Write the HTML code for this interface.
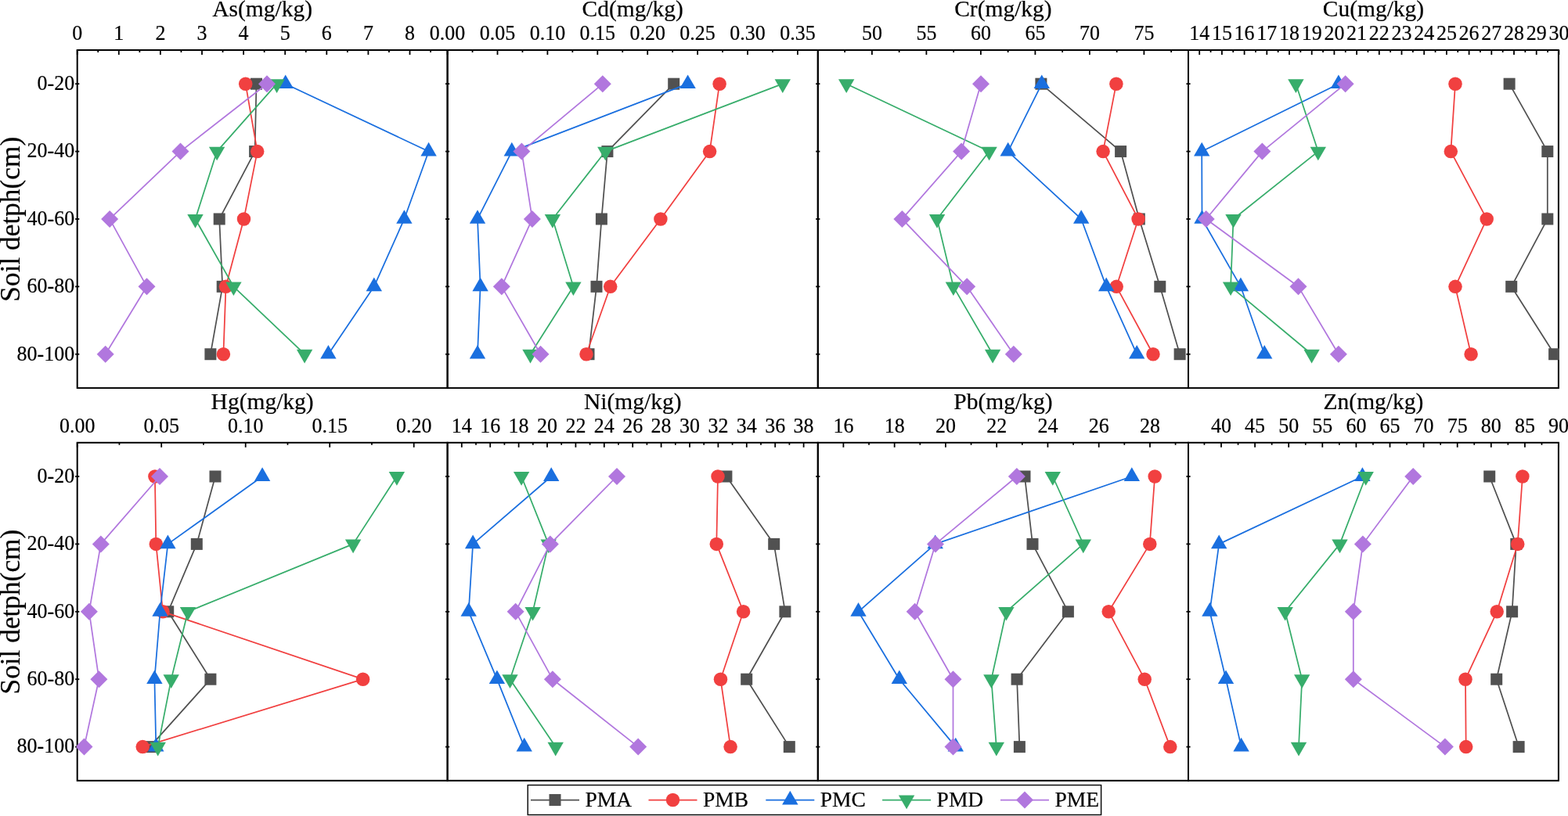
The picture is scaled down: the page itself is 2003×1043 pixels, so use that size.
<!DOCTYPE html><html><head><meta charset="utf-8"><title>Soil depth profiles</title><style>html,body{margin:0;padding:0;background:#fff;}svg{display:block;}text{stroke:#000;stroke-width:0.2px;}</style></head><body>
<svg width="2003" height="1043" viewBox="0 0 2003 1043" font-family="'Liberation Serif','Times New Roman',serif">
<rect x="0" y="0" width="2003" height="1043" fill="#fff"/>
<defs>
<clipPath id="c0"><rect x="97.70" y="63.00" width="474.90" height="433.90"/></clipPath>
<clipPath id="c1"><rect x="570.60" y="63.00" width="475.20" height="433.90"/></clipPath>
<clipPath id="c2"><rect x="1043.80" y="63.00" width="475.20" height="433.90"/></clipPath>
<clipPath id="c3"><rect x="1517.00" y="63.00" width="474.90" height="433.90"/></clipPath>
<clipPath id="c4"><rect x="97.70" y="564.80" width="474.90" height="434.00"/></clipPath>
<clipPath id="c5"><rect x="570.60" y="564.80" width="475.20" height="434.00"/></clipPath>
<clipPath id="c6"><rect x="1043.80" y="564.80" width="475.20" height="434.00"/></clipPath>
<clipPath id="c7"><rect x="1517.00" y="564.80" width="474.90" height="434.00"/></clipPath>
</defs>
<g stroke="#000" stroke-width="1.8" fill="none"><line x1="98.70" y1="64.00" x2="98.70" y2="70.00"/><line x1="151.80" y1="64.00" x2="151.80" y2="70.00"/><line x1="204.90" y1="64.00" x2="204.90" y2="70.00"/><line x1="258.00" y1="64.00" x2="258.00" y2="70.00"/><line x1="311.10" y1="64.00" x2="311.10" y2="70.00"/><line x1="364.20" y1="64.00" x2="364.20" y2="70.00"/><line x1="417.30" y1="64.00" x2="417.30" y2="70.00"/><line x1="470.40" y1="64.00" x2="470.40" y2="70.00"/><line x1="523.50" y1="64.00" x2="523.50" y2="70.00"/><line x1="125.25" y1="64.00" x2="125.25" y2="67.00"/><line x1="178.35" y1="64.00" x2="178.35" y2="67.00"/><line x1="231.45" y1="64.00" x2="231.45" y2="67.00"/><line x1="284.55" y1="64.00" x2="284.55" y2="67.00"/><line x1="337.65" y1="64.00" x2="337.65" y2="67.00"/><line x1="390.75" y1="64.00" x2="390.75" y2="67.00"/><line x1="443.85" y1="64.00" x2="443.85" y2="67.00"/><line x1="496.95" y1="64.00" x2="496.95" y2="67.00"/><line x1="550.05" y1="64.00" x2="550.05" y2="67.00"/><line x1="96.10" y1="107.19" x2="101.30" y2="107.19"/><line x1="96.10" y1="193.57" x2="101.30" y2="193.57"/><line x1="96.10" y1="279.95" x2="101.30" y2="279.95"/><line x1="96.10" y1="366.33" x2="101.30" y2="366.33"/><line x1="96.10" y1="452.71" x2="101.30" y2="452.71"/></g>
<rect x="98.70" y="64.00" width="472.90" height="431.90" fill="none" stroke="#000" stroke-width="2.0"/>
<g font-size="26" text-anchor="middle" fill="#000"><text transform="translate(98.70,51.30) scale(1,1.03)">0</text><text transform="translate(151.80,51.30) scale(1,1.03)">1</text><text transform="translate(204.90,51.30) scale(1,1.03)">2</text><text transform="translate(258.00,51.30) scale(1,1.03)">3</text><text transform="translate(311.10,51.30) scale(1,1.03)">4</text><text transform="translate(364.20,51.30) scale(1,1.03)">5</text><text transform="translate(417.30,51.30) scale(1,1.03)">6</text><text transform="translate(470.40,51.30) scale(1,1.03)">7</text><text transform="translate(523.50,51.30) scale(1,1.03)">8</text></g>
<text transform="translate(335.15,21.00)" font-size="29.5" text-anchor="middle" fill="#000">As(mg/kg)</text>
<g stroke="#000" stroke-width="1.8" fill="none"><line x1="571.60" y1="64.00" x2="571.60" y2="70.00"/><line x1="635.50" y1="64.00" x2="635.50" y2="70.00"/><line x1="699.40" y1="64.00" x2="699.40" y2="70.00"/><line x1="763.30" y1="64.00" x2="763.30" y2="70.00"/><line x1="827.20" y1="64.00" x2="827.20" y2="70.00"/><line x1="891.10" y1="64.00" x2="891.10" y2="70.00"/><line x1="955.00" y1="64.00" x2="955.00" y2="70.00"/><line x1="1018.90" y1="64.00" x2="1018.90" y2="70.00"/><line x1="603.55" y1="64.00" x2="603.55" y2="67.00"/><line x1="667.45" y1="64.00" x2="667.45" y2="67.00"/><line x1="731.35" y1="64.00" x2="731.35" y2="67.00"/><line x1="795.25" y1="64.00" x2="795.25" y2="67.00"/><line x1="859.15" y1="64.00" x2="859.15" y2="67.00"/><line x1="923.05" y1="64.00" x2="923.05" y2="67.00"/><line x1="986.95" y1="64.00" x2="986.95" y2="67.00"/><line x1="569.00" y1="107.19" x2="574.20" y2="107.19"/><line x1="569.00" y1="193.57" x2="574.20" y2="193.57"/><line x1="569.00" y1="279.95" x2="574.20" y2="279.95"/><line x1="569.00" y1="366.33" x2="574.20" y2="366.33"/><line x1="569.00" y1="452.71" x2="574.20" y2="452.71"/></g>
<rect x="571.60" y="64.00" width="473.20" height="431.90" fill="none" stroke="#000" stroke-width="2.0"/>
<g font-size="26" text-anchor="middle" fill="#000"><text transform="translate(571.60,51.30) scale(1,1.03)">0.00</text><text transform="translate(635.50,51.30) scale(1,1.03)">0.05</text><text transform="translate(699.40,51.30) scale(1,1.03)">0.10</text><text transform="translate(763.30,51.30) scale(1,1.03)">0.15</text><text transform="translate(827.20,51.30) scale(1,1.03)">0.20</text><text transform="translate(891.10,51.30) scale(1,1.03)">0.25</text><text transform="translate(955.00,51.30) scale(1,1.03)">0.30</text><text transform="translate(1018.90,51.30) scale(1,1.03)">0.35</text></g>
<text transform="translate(808.20,21.00)" font-size="29.5" text-anchor="middle" fill="#000">Cd(mg/kg)</text>
<g stroke="#000" stroke-width="1.8" fill="none"><line x1="1113.90" y1="64.00" x2="1113.90" y2="70.00"/><line x1="1183.40" y1="64.00" x2="1183.40" y2="70.00"/><line x1="1252.90" y1="64.00" x2="1252.90" y2="70.00"/><line x1="1322.40" y1="64.00" x2="1322.40" y2="70.00"/><line x1="1391.90" y1="64.00" x2="1391.90" y2="70.00"/><line x1="1461.40" y1="64.00" x2="1461.40" y2="70.00"/><line x1="1079.15" y1="64.00" x2="1079.15" y2="67.00"/><line x1="1148.65" y1="64.00" x2="1148.65" y2="67.00"/><line x1="1218.15" y1="64.00" x2="1218.15" y2="67.00"/><line x1="1287.65" y1="64.00" x2="1287.65" y2="67.00"/><line x1="1357.15" y1="64.00" x2="1357.15" y2="67.00"/><line x1="1426.65" y1="64.00" x2="1426.65" y2="67.00"/><line x1="1496.15" y1="64.00" x2="1496.15" y2="67.00"/><line x1="1042.20" y1="107.19" x2="1047.40" y2="107.19"/><line x1="1042.20" y1="193.57" x2="1047.40" y2="193.57"/><line x1="1042.20" y1="279.95" x2="1047.40" y2="279.95"/><line x1="1042.20" y1="366.33" x2="1047.40" y2="366.33"/><line x1="1042.20" y1="452.71" x2="1047.40" y2="452.71"/></g>
<rect x="1044.80" y="64.00" width="473.20" height="431.90" fill="none" stroke="#000" stroke-width="2.0"/>
<g font-size="26" text-anchor="middle" fill="#000"><text transform="translate(1113.90,51.30) scale(1,1.03)">50</text><text transform="translate(1183.40,51.30) scale(1,1.03)">55</text><text transform="translate(1252.90,51.30) scale(1,1.03)">60</text><text transform="translate(1322.40,51.30) scale(1,1.03)">65</text><text transform="translate(1391.90,51.30) scale(1,1.03)">70</text><text transform="translate(1461.40,51.30) scale(1,1.03)">75</text></g>
<text transform="translate(1281.40,21.00)" font-size="29.5" text-anchor="middle" fill="#000">Cr(mg/kg)</text>
<g stroke="#000" stroke-width="1.8" fill="none"><line x1="1532.20" y1="64.00" x2="1532.20" y2="70.00"/><line x1="1560.90" y1="64.00" x2="1560.90" y2="70.00"/><line x1="1589.60" y1="64.00" x2="1589.60" y2="70.00"/><line x1="1618.30" y1="64.00" x2="1618.30" y2="70.00"/><line x1="1647.00" y1="64.00" x2="1647.00" y2="70.00"/><line x1="1675.70" y1="64.00" x2="1675.70" y2="70.00"/><line x1="1704.40" y1="64.00" x2="1704.40" y2="70.00"/><line x1="1733.10" y1="64.00" x2="1733.10" y2="70.00"/><line x1="1761.80" y1="64.00" x2="1761.80" y2="70.00"/><line x1="1790.50" y1="64.00" x2="1790.50" y2="70.00"/><line x1="1819.20" y1="64.00" x2="1819.20" y2="70.00"/><line x1="1847.90" y1="64.00" x2="1847.90" y2="70.00"/><line x1="1876.60" y1="64.00" x2="1876.60" y2="70.00"/><line x1="1905.30" y1="64.00" x2="1905.30" y2="70.00"/><line x1="1934.00" y1="64.00" x2="1934.00" y2="70.00"/><line x1="1962.70" y1="64.00" x2="1962.70" y2="70.00"/><line x1="1991.40" y1="64.00" x2="1991.40" y2="70.00"/><line x1="1546.55" y1="64.00" x2="1546.55" y2="67.00"/><line x1="1575.25" y1="64.00" x2="1575.25" y2="67.00"/><line x1="1603.95" y1="64.00" x2="1603.95" y2="67.00"/><line x1="1632.65" y1="64.00" x2="1632.65" y2="67.00"/><line x1="1661.35" y1="64.00" x2="1661.35" y2="67.00"/><line x1="1690.05" y1="64.00" x2="1690.05" y2="67.00"/><line x1="1718.75" y1="64.00" x2="1718.75" y2="67.00"/><line x1="1747.45" y1="64.00" x2="1747.45" y2="67.00"/><line x1="1776.15" y1="64.00" x2="1776.15" y2="67.00"/><line x1="1804.85" y1="64.00" x2="1804.85" y2="67.00"/><line x1="1833.55" y1="64.00" x2="1833.55" y2="67.00"/><line x1="1862.25" y1="64.00" x2="1862.25" y2="67.00"/><line x1="1890.95" y1="64.00" x2="1890.95" y2="67.00"/><line x1="1919.65" y1="64.00" x2="1919.65" y2="67.00"/><line x1="1948.35" y1="64.00" x2="1948.35" y2="67.00"/><line x1="1977.05" y1="64.00" x2="1977.05" y2="67.00"/><line x1="1515.40" y1="107.19" x2="1520.60" y2="107.19"/><line x1="1515.40" y1="193.57" x2="1520.60" y2="193.57"/><line x1="1515.40" y1="279.95" x2="1520.60" y2="279.95"/><line x1="1515.40" y1="366.33" x2="1520.60" y2="366.33"/><line x1="1515.40" y1="452.71" x2="1520.60" y2="452.71"/></g>
<rect x="1518.00" y="64.00" width="472.90" height="431.90" fill="none" stroke="#000" stroke-width="2.0"/>
<g font-size="26" text-anchor="middle" fill="#000"><text transform="translate(1532.20,51.30) scale(1,1.03)">14</text><text transform="translate(1560.90,51.30) scale(1,1.03)">15</text><text transform="translate(1589.60,51.30) scale(1,1.03)">16</text><text transform="translate(1618.30,51.30) scale(1,1.03)">17</text><text transform="translate(1647.00,51.30) scale(1,1.03)">18</text><text transform="translate(1675.70,51.30) scale(1,1.03)">19</text><text transform="translate(1704.40,51.30) scale(1,1.03)">20</text><text transform="translate(1733.10,51.30) scale(1,1.03)">21</text><text transform="translate(1761.80,51.30) scale(1,1.03)">22</text><text transform="translate(1790.50,51.30) scale(1,1.03)">23</text><text transform="translate(1819.20,51.30) scale(1,1.03)">24</text><text transform="translate(1847.90,51.30) scale(1,1.03)">25</text><text transform="translate(1876.60,51.30) scale(1,1.03)">26</text><text transform="translate(1905.30,51.30) scale(1,1.03)">27</text><text transform="translate(1934.00,51.30) scale(1,1.03)">28</text><text transform="translate(1962.70,51.30) scale(1,1.03)">29</text><text transform="translate(1991.40,51.30) scale(1,1.03)">30</text></g>
<text transform="translate(1754.45,21.00)" font-size="29.5" text-anchor="middle" fill="#000">Cu(mg/kg)</text>
<g stroke="#000" stroke-width="1.8" fill="none"><line x1="98.70" y1="565.80" x2="98.70" y2="571.80"/><line x1="206.20" y1="565.80" x2="206.20" y2="571.80"/><line x1="313.70" y1="565.80" x2="313.70" y2="571.80"/><line x1="421.20" y1="565.80" x2="421.20" y2="571.80"/><line x1="528.70" y1="565.80" x2="528.70" y2="571.80"/><line x1="152.45" y1="565.80" x2="152.45" y2="568.80"/><line x1="259.95" y1="565.80" x2="259.95" y2="568.80"/><line x1="367.45" y1="565.80" x2="367.45" y2="568.80"/><line x1="474.95" y1="565.80" x2="474.95" y2="568.80"/><line x1="96.10" y1="609.00" x2="101.30" y2="609.00"/><line x1="96.10" y1="695.40" x2="101.30" y2="695.40"/><line x1="96.10" y1="781.80" x2="101.30" y2="781.80"/><line x1="96.10" y1="868.20" x2="101.30" y2="868.20"/><line x1="96.10" y1="954.60" x2="101.30" y2="954.60"/></g>
<rect x="98.70" y="565.80" width="472.90" height="432.00" fill="none" stroke="#000" stroke-width="2.0"/>
<g font-size="26" text-anchor="middle" fill="#000"><text transform="translate(98.70,553.10) scale(1,1.03)">0.00</text><text transform="translate(206.20,553.10) scale(1,1.03)">0.05</text><text transform="translate(313.70,553.10) scale(1,1.03)">0.10</text><text transform="translate(421.20,553.10) scale(1,1.03)">0.15</text><text transform="translate(528.70,553.10) scale(1,1.03)">0.20</text></g>
<text transform="translate(335.15,522.80)" font-size="29.5" text-anchor="middle" fill="#000">Hg(mg/kg)</text>
<g stroke="#000" stroke-width="1.8" fill="none"><line x1="589.80" y1="565.80" x2="589.80" y2="571.80"/><line x1="626.20" y1="565.80" x2="626.20" y2="571.80"/><line x1="662.60" y1="565.80" x2="662.60" y2="571.80"/><line x1="699.00" y1="565.80" x2="699.00" y2="571.80"/><line x1="735.40" y1="565.80" x2="735.40" y2="571.80"/><line x1="771.80" y1="565.80" x2="771.80" y2="571.80"/><line x1="808.20" y1="565.80" x2="808.20" y2="571.80"/><line x1="844.60" y1="565.80" x2="844.60" y2="571.80"/><line x1="881.00" y1="565.80" x2="881.00" y2="571.80"/><line x1="917.40" y1="565.80" x2="917.40" y2="571.80"/><line x1="953.80" y1="565.80" x2="953.80" y2="571.80"/><line x1="990.20" y1="565.80" x2="990.20" y2="571.80"/><line x1="1026.60" y1="565.80" x2="1026.60" y2="571.80"/><line x1="608.00" y1="565.80" x2="608.00" y2="568.80"/><line x1="644.40" y1="565.80" x2="644.40" y2="568.80"/><line x1="680.80" y1="565.80" x2="680.80" y2="568.80"/><line x1="717.20" y1="565.80" x2="717.20" y2="568.80"/><line x1="753.60" y1="565.80" x2="753.60" y2="568.80"/><line x1="790.00" y1="565.80" x2="790.00" y2="568.80"/><line x1="826.40" y1="565.80" x2="826.40" y2="568.80"/><line x1="862.80" y1="565.80" x2="862.80" y2="568.80"/><line x1="899.20" y1="565.80" x2="899.20" y2="568.80"/><line x1="935.60" y1="565.80" x2="935.60" y2="568.80"/><line x1="972.00" y1="565.80" x2="972.00" y2="568.80"/><line x1="1008.40" y1="565.80" x2="1008.40" y2="568.80"/><line x1="569.00" y1="609.00" x2="574.20" y2="609.00"/><line x1="569.00" y1="695.40" x2="574.20" y2="695.40"/><line x1="569.00" y1="781.80" x2="574.20" y2="781.80"/><line x1="569.00" y1="868.20" x2="574.20" y2="868.20"/><line x1="569.00" y1="954.60" x2="574.20" y2="954.60"/></g>
<rect x="571.60" y="565.80" width="473.20" height="432.00" fill="none" stroke="#000" stroke-width="2.0"/>
<g font-size="26" text-anchor="middle" fill="#000"><text transform="translate(589.80,553.10) scale(1,1.03)">14</text><text transform="translate(626.20,553.10) scale(1,1.03)">16</text><text transform="translate(662.60,553.10) scale(1,1.03)">18</text><text transform="translate(699.00,553.10) scale(1,1.03)">20</text><text transform="translate(735.40,553.10) scale(1,1.03)">22</text><text transform="translate(771.80,553.10) scale(1,1.03)">24</text><text transform="translate(808.20,553.10) scale(1,1.03)">26</text><text transform="translate(844.60,553.10) scale(1,1.03)">28</text><text transform="translate(881.00,553.10) scale(1,1.03)">30</text><text transform="translate(917.40,553.10) scale(1,1.03)">32</text><text transform="translate(953.80,553.10) scale(1,1.03)">34</text><text transform="translate(990.20,553.10) scale(1,1.03)">36</text><text transform="translate(1026.60,553.10) scale(1,1.03)">38</text></g>
<text transform="translate(808.20,522.80)" font-size="29.5" text-anchor="middle" fill="#000">Ni(mg/kg)</text>
<g stroke="#000" stroke-width="1.8" fill="none"><line x1="1077.40" y1="565.80" x2="1077.40" y2="571.80"/><line x1="1142.66" y1="565.80" x2="1142.66" y2="571.80"/><line x1="1207.92" y1="565.80" x2="1207.92" y2="571.80"/><line x1="1273.18" y1="565.80" x2="1273.18" y2="571.80"/><line x1="1338.44" y1="565.80" x2="1338.44" y2="571.80"/><line x1="1403.70" y1="565.80" x2="1403.70" y2="571.80"/><line x1="1468.96" y1="565.80" x2="1468.96" y2="571.80"/><line x1="1110.03" y1="565.80" x2="1110.03" y2="568.80"/><line x1="1175.29" y1="565.80" x2="1175.29" y2="568.80"/><line x1="1240.55" y1="565.80" x2="1240.55" y2="568.80"/><line x1="1305.81" y1="565.80" x2="1305.81" y2="568.80"/><line x1="1371.07" y1="565.80" x2="1371.07" y2="568.80"/><line x1="1436.33" y1="565.80" x2="1436.33" y2="568.80"/><line x1="1501.59" y1="565.80" x2="1501.59" y2="568.80"/><line x1="1042.20" y1="609.00" x2="1047.40" y2="609.00"/><line x1="1042.20" y1="695.40" x2="1047.40" y2="695.40"/><line x1="1042.20" y1="781.80" x2="1047.40" y2="781.80"/><line x1="1042.20" y1="868.20" x2="1047.40" y2="868.20"/><line x1="1042.20" y1="954.60" x2="1047.40" y2="954.60"/></g>
<rect x="1044.80" y="565.80" width="473.20" height="432.00" fill="none" stroke="#000" stroke-width="2.0"/>
<g font-size="26" text-anchor="middle" fill="#000"><text transform="translate(1077.40,553.10) scale(1,1.03)">16</text><text transform="translate(1142.66,553.10) scale(1,1.03)">18</text><text transform="translate(1207.92,553.10) scale(1,1.03)">20</text><text transform="translate(1273.18,553.10) scale(1,1.03)">22</text><text transform="translate(1338.44,553.10) scale(1,1.03)">24</text><text transform="translate(1403.70,553.10) scale(1,1.03)">26</text><text transform="translate(1468.96,553.10) scale(1,1.03)">28</text></g>
<text transform="translate(1281.40,522.80)" font-size="29.5" text-anchor="middle" fill="#000">Pb(mg/kg)</text>
<g stroke="#000" stroke-width="1.8" fill="none"><line x1="1560.00" y1="565.80" x2="1560.00" y2="571.80"/><line x1="1603.10" y1="565.80" x2="1603.10" y2="571.80"/><line x1="1646.20" y1="565.80" x2="1646.20" y2="571.80"/><line x1="1689.30" y1="565.80" x2="1689.30" y2="571.80"/><line x1="1732.40" y1="565.80" x2="1732.40" y2="571.80"/><line x1="1775.50" y1="565.80" x2="1775.50" y2="571.80"/><line x1="1818.60" y1="565.80" x2="1818.60" y2="571.80"/><line x1="1861.70" y1="565.80" x2="1861.70" y2="571.80"/><line x1="1904.80" y1="565.80" x2="1904.80" y2="571.80"/><line x1="1947.90" y1="565.80" x2="1947.90" y2="571.80"/><line x1="1991.00" y1="565.80" x2="1991.00" y2="571.80"/><line x1="1538.45" y1="565.80" x2="1538.45" y2="568.80"/><line x1="1581.55" y1="565.80" x2="1581.55" y2="568.80"/><line x1="1624.65" y1="565.80" x2="1624.65" y2="568.80"/><line x1="1667.75" y1="565.80" x2="1667.75" y2="568.80"/><line x1="1710.85" y1="565.80" x2="1710.85" y2="568.80"/><line x1="1753.95" y1="565.80" x2="1753.95" y2="568.80"/><line x1="1797.05" y1="565.80" x2="1797.05" y2="568.80"/><line x1="1840.15" y1="565.80" x2="1840.15" y2="568.80"/><line x1="1883.25" y1="565.80" x2="1883.25" y2="568.80"/><line x1="1926.35" y1="565.80" x2="1926.35" y2="568.80"/><line x1="1969.45" y1="565.80" x2="1969.45" y2="568.80"/><line x1="1515.40" y1="609.00" x2="1520.60" y2="609.00"/><line x1="1515.40" y1="695.40" x2="1520.60" y2="695.40"/><line x1="1515.40" y1="781.80" x2="1520.60" y2="781.80"/><line x1="1515.40" y1="868.20" x2="1520.60" y2="868.20"/><line x1="1515.40" y1="954.60" x2="1520.60" y2="954.60"/></g>
<rect x="1518.00" y="565.80" width="472.90" height="432.00" fill="none" stroke="#000" stroke-width="2.0"/>
<g font-size="26" text-anchor="middle" fill="#000"><text transform="translate(1560.00,553.10) scale(1,1.03)">40</text><text transform="translate(1603.10,553.10) scale(1,1.03)">45</text><text transform="translate(1646.20,553.10) scale(1,1.03)">50</text><text transform="translate(1689.30,553.10) scale(1,1.03)">55</text><text transform="translate(1732.40,553.10) scale(1,1.03)">60</text><text transform="translate(1775.50,553.10) scale(1,1.03)">65</text><text transform="translate(1818.60,553.10) scale(1,1.03)">70</text><text transform="translate(1861.70,553.10) scale(1,1.03)">75</text><text transform="translate(1904.80,553.10) scale(1,1.03)">80</text><text transform="translate(1947.90,553.10) scale(1,1.03)">85</text><text transform="translate(1991.00,553.10) scale(1,1.03)">90</text></g>
<text transform="translate(1754.45,522.80)" font-size="29.5" text-anchor="middle" fill="#000">Zn(mg/kg)</text>
<g font-size="26" text-anchor="end" fill="#000"><text transform="translate(95.2,114.99) scale(1,1.055)">0-20</text><text transform="translate(95.2,201.37) scale(1,1.055)">20-40</text><text transform="translate(95.2,287.75) scale(1,1.055)">40-60</text><text transform="translate(95.2,374.13) scale(1,1.055)">60-80</text><text transform="translate(95.2,460.51) scale(1,1.055)">80-100</text></g>
<text transform="translate(25.3,280.25) rotate(-90)" font-size="35.3" text-anchor="middle" fill="#000">Soil detph(cm)</text>
<g font-size="26" text-anchor="end" fill="#000"><text transform="translate(95.2,616.80) scale(1,1.055)">0-20</text><text transform="translate(95.2,703.20) scale(1,1.055)">20-40</text><text transform="translate(95.2,789.60) scale(1,1.055)">40-60</text><text transform="translate(95.2,876.00) scale(1,1.055)">60-80</text><text transform="translate(95.2,962.40) scale(1,1.055)">80-100</text></g>
<text transform="translate(25.3,782.10) rotate(-90)" font-size="35.3" text-anchor="middle" fill="#000">Soil detph(cm)</text>
<g clip-path="url(#c0)"><polyline points="327.50,107.19 325.60,193.57 280.20,279.95 284.20,366.33 268.90,452.71" fill="none" stroke="#515151" stroke-width="1.75" stroke-linejoin="round"/><rect x="320.00" y="99.69" width="15.0" height="15.0" fill="#515151"/><rect x="318.10" y="186.07" width="15.0" height="15.0" fill="#515151"/><rect x="272.70" y="272.45" width="15.0" height="15.0" fill="#515151"/><rect x="276.70" y="358.83" width="15.0" height="15.0" fill="#515151"/><rect x="261.40" y="445.21" width="15.0" height="15.0" fill="#515151"/><polyline points="313.70,107.19 328.70,193.57 311.50,279.95 288.50,366.33 285.40,452.71" fill="none" stroke="#F14040" stroke-width="1.75" stroke-linejoin="round"/><circle cx="313.70" cy="107.19" r="8.75" fill="#F14040"/><circle cx="328.70" cy="193.57" r="8.75" fill="#F14040"/><circle cx="311.50" cy="279.95" r="8.75" fill="#F14040"/><circle cx="288.50" cy="366.33" r="8.75" fill="#F14040"/><circle cx="285.40" cy="452.71" r="8.75" fill="#F14040"/><polyline points="364.70,107.19 547.60,193.57 516.40,279.95 477.80,366.33 419.40,452.71" fill="none" stroke="#1A6FDF" stroke-width="1.75" stroke-linejoin="round"/><polygon points="364.70,95.41 374.90,113.08 354.50,113.08" fill="#1A6FDF"/><polygon points="547.60,181.79 557.80,199.46 537.40,199.46" fill="#1A6FDF"/><polygon points="516.40,268.17 526.60,285.84 506.20,285.84" fill="#1A6FDF"/><polygon points="477.80,354.55 488.00,372.22 467.60,372.22" fill="#1A6FDF"/><polygon points="419.40,440.93 429.60,458.60 409.20,458.60" fill="#1A6FDF"/><polyline points="353.60,107.19 277.10,193.57 249.50,279.95 298.40,366.33 389.10,452.71" fill="none" stroke="#37AD6B" stroke-width="1.75" stroke-linejoin="round"/><polygon points="353.60,118.97 363.80,101.30 343.40,101.30" fill="#37AD6B"/><polygon points="277.10,205.35 287.30,187.68 266.90,187.68" fill="#37AD6B"/><polygon points="249.50,291.73 259.70,274.06 239.30,274.06" fill="#37AD6B"/><polygon points="298.40,378.11 308.60,360.44 288.20,360.44" fill="#37AD6B"/><polygon points="389.10,464.49 399.30,446.82 378.90,446.82" fill="#37AD6B"/><polyline points="341.00,107.19 230.50,193.57 140.10,279.95 187.50,366.33 134.70,452.71" fill="none" stroke="#B177DE" stroke-width="1.75" stroke-linejoin="round"/><polygon points="341.00,96.19 352.00,107.19 341.00,118.19 330.00,107.19" fill="#B177DE"/><polygon points="230.50,182.57 241.50,193.57 230.50,204.57 219.50,193.57" fill="#B177DE"/><polygon points="140.10,268.95 151.10,279.95 140.10,290.95 129.10,279.95" fill="#B177DE"/><polygon points="187.50,355.33 198.50,366.33 187.50,377.33 176.50,366.33" fill="#B177DE"/><polygon points="134.70,441.71 145.70,452.71 134.70,463.71 123.70,452.71" fill="#B177DE"/></g>
<g clip-path="url(#c1)"><polyline points="860.70,107.19 775.90,193.57 768.40,279.95 762.00,366.33 752.00,452.71" fill="none" stroke="#515151" stroke-width="1.75" stroke-linejoin="round"/><rect x="853.20" y="99.69" width="15.0" height="15.0" fill="#515151"/><rect x="768.40" y="186.07" width="15.0" height="15.0" fill="#515151"/><rect x="760.90" y="272.45" width="15.0" height="15.0" fill="#515151"/><rect x="754.50" y="358.83" width="15.0" height="15.0" fill="#515151"/><rect x="744.50" y="445.21" width="15.0" height="15.0" fill="#515151"/><polyline points="919.10,107.19 906.60,193.57 843.90,279.95 779.70,366.33 749.00,452.71" fill="none" stroke="#F14040" stroke-width="1.75" stroke-linejoin="round"/><circle cx="919.10" cy="107.19" r="8.75" fill="#F14040"/><circle cx="906.60" cy="193.57" r="8.75" fill="#F14040"/><circle cx="843.90" cy="279.95" r="8.75" fill="#F14040"/><circle cx="779.70" cy="366.33" r="8.75" fill="#F14040"/><circle cx="749.00" cy="452.71" r="8.75" fill="#F14040"/><polyline points="878.60,107.19 653.80,193.57 610.00,279.95 613.60,366.33 610.00,452.71" fill="none" stroke="#1A6FDF" stroke-width="1.75" stroke-linejoin="round"/><polygon points="878.60,95.41 888.80,113.08 868.40,113.08" fill="#1A6FDF"/><polygon points="653.80,181.79 664.00,199.46 643.60,199.46" fill="#1A6FDF"/><polygon points="610.00,268.17 620.20,285.84 599.80,285.84" fill="#1A6FDF"/><polygon points="613.60,354.55 623.80,372.22 603.40,372.22" fill="#1A6FDF"/><polygon points="610.00,440.93 620.20,458.60 599.80,458.60" fill="#1A6FDF"/><polyline points="999.80,107.19 773.30,193.57 705.90,279.95 732.40,366.33 677.50,452.71" fill="none" stroke="#37AD6B" stroke-width="1.75" stroke-linejoin="round"/><polygon points="999.80,118.97 1010.00,101.30 989.60,101.30" fill="#37AD6B"/><polygon points="773.30,205.35 783.50,187.68 763.10,187.68" fill="#37AD6B"/><polygon points="705.90,291.73 716.10,274.06 695.70,274.06" fill="#37AD6B"/><polygon points="732.40,378.11 742.60,360.44 722.20,360.44" fill="#37AD6B"/><polygon points="677.50,464.49 687.70,446.82 667.30,446.82" fill="#37AD6B"/><polyline points="769.80,107.19 666.40,193.57 679.90,279.95 640.80,366.33 690.50,452.71" fill="none" stroke="#B177DE" stroke-width="1.75" stroke-linejoin="round"/><polygon points="769.80,96.19 780.80,107.19 769.80,118.19 758.80,107.19" fill="#B177DE"/><polygon points="666.40,182.57 677.40,193.57 666.40,204.57 655.40,193.57" fill="#B177DE"/><polygon points="679.90,268.95 690.90,279.95 679.90,290.95 668.90,279.95" fill="#B177DE"/><polygon points="640.80,355.33 651.80,366.33 640.80,377.33 629.80,366.33" fill="#B177DE"/><polygon points="690.50,441.71 701.50,452.71 690.50,463.71 679.50,452.71" fill="#B177DE"/></g>
<g clip-path="url(#c2)"><polyline points="1329.90,107.19 1431.60,193.57 1455.30,279.95 1481.80,366.33 1507.10,452.71" fill="none" stroke="#515151" stroke-width="1.75" stroke-linejoin="round"/><rect x="1322.40" y="99.69" width="15.0" height="15.0" fill="#515151"/><rect x="1424.10" y="186.07" width="15.0" height="15.0" fill="#515151"/><rect x="1447.80" y="272.45" width="15.0" height="15.0" fill="#515151"/><rect x="1474.30" y="358.83" width="15.0" height="15.0" fill="#515151"/><rect x="1499.60" y="445.21" width="15.0" height="15.0" fill="#515151"/><polyline points="1425.90,107.19 1409.10,193.57 1454.10,279.95 1426.20,366.33 1473.00,452.71" fill="none" stroke="#F14040" stroke-width="1.75" stroke-linejoin="round"/><circle cx="1425.90" cy="107.19" r="8.75" fill="#F14040"/><circle cx="1409.10" cy="193.57" r="8.75" fill="#F14040"/><circle cx="1454.10" cy="279.95" r="8.75" fill="#F14040"/><circle cx="1426.20" cy="366.33" r="8.75" fill="#F14040"/><circle cx="1473.00" cy="452.71" r="8.75" fill="#F14040"/><polyline points="1330.80,107.19 1287.70,193.57 1381.20,279.95 1413.20,366.33 1452.20,452.71" fill="none" stroke="#1A6FDF" stroke-width="1.75" stroke-linejoin="round"/><polygon points="1330.80,95.41 1341.00,113.08 1320.60,113.08" fill="#1A6FDF"/><polygon points="1287.70,181.79 1297.90,199.46 1277.50,199.46" fill="#1A6FDF"/><polygon points="1381.20,268.17 1391.40,285.84 1371.00,285.84" fill="#1A6FDF"/><polygon points="1413.20,354.55 1423.40,372.22 1403.00,372.22" fill="#1A6FDF"/><polygon points="1452.20,440.93 1462.40,458.60 1442.00,458.60" fill="#1A6FDF"/><polyline points="1081.20,107.19 1263.60,193.57 1197.10,279.95 1217.90,366.33 1268.10,452.71" fill="none" stroke="#37AD6B" stroke-width="1.75" stroke-linejoin="round"/><polygon points="1081.20,118.97 1091.40,101.30 1071.00,101.30" fill="#37AD6B"/><polygon points="1263.60,205.35 1273.80,187.68 1253.40,187.68" fill="#37AD6B"/><polygon points="1197.10,291.73 1207.30,274.06 1186.90,274.06" fill="#37AD6B"/><polygon points="1217.90,378.11 1228.10,360.44 1207.70,360.44" fill="#37AD6B"/><polygon points="1268.10,464.49 1278.30,446.82 1257.90,446.82" fill="#37AD6B"/><polyline points="1253.00,107.19 1228.10,193.57 1152.40,279.95 1235.20,366.33 1294.80,452.71" fill="none" stroke="#B177DE" stroke-width="1.75" stroke-linejoin="round"/><polygon points="1253.00,96.19 1264.00,107.19 1253.00,118.19 1242.00,107.19" fill="#B177DE"/><polygon points="1228.10,182.57 1239.10,193.57 1228.10,204.57 1217.10,193.57" fill="#B177DE"/><polygon points="1152.40,268.95 1163.40,279.95 1152.40,290.95 1141.40,279.95" fill="#B177DE"/><polygon points="1235.20,355.33 1246.20,366.33 1235.20,377.33 1224.20,366.33" fill="#B177DE"/><polygon points="1294.80,441.71 1305.80,452.71 1294.80,463.71 1283.80,452.71" fill="#B177DE"/></g>
<g clip-path="url(#c3)"><polyline points="1928.10,107.19 1976.80,193.57 1976.80,279.95 1930.70,366.33 1985.60,452.71" fill="none" stroke="#515151" stroke-width="1.75" stroke-linejoin="round"/><rect x="1920.60" y="99.69" width="15.0" height="15.0" fill="#515151"/><rect x="1969.30" y="186.07" width="15.0" height="15.0" fill="#515151"/><rect x="1969.30" y="272.45" width="15.0" height="15.0" fill="#515151"/><rect x="1923.20" y="358.83" width="15.0" height="15.0" fill="#515151"/><rect x="1978.10" y="445.21" width="15.0" height="15.0" fill="#515151"/><polyline points="1859.00,107.19 1853.30,193.57 1899.20,279.95 1859.00,366.33 1879.10,452.71" fill="none" stroke="#F14040" stroke-width="1.75" stroke-linejoin="round"/><circle cx="1859.00" cy="107.19" r="8.75" fill="#F14040"/><circle cx="1853.30" cy="193.57" r="8.75" fill="#F14040"/><circle cx="1899.20" cy="279.95" r="8.75" fill="#F14040"/><circle cx="1859.00" cy="366.33" r="8.75" fill="#F14040"/><circle cx="1879.10" cy="452.71" r="8.75" fill="#F14040"/><polyline points="1709.90,107.19 1535.20,193.57 1535.50,279.95 1584.90,366.33 1615.20,452.71" fill="none" stroke="#1A6FDF" stroke-width="1.75" stroke-linejoin="round"/><polygon points="1709.90,95.41 1720.10,113.08 1699.70,113.08" fill="#1A6FDF"/><polygon points="1535.20,181.79 1545.40,199.46 1525.00,199.46" fill="#1A6FDF"/><polygon points="1535.50,268.17 1545.70,285.84 1525.30,285.84" fill="#1A6FDF"/><polygon points="1584.90,354.55 1595.10,372.22 1574.70,372.22" fill="#1A6FDF"/><polygon points="1615.20,440.93 1625.40,458.60 1605.00,458.60" fill="#1A6FDF"/><polyline points="1655.40,107.19 1683.80,193.57 1575.50,279.95 1572.10,366.33 1675.60,452.71" fill="none" stroke="#37AD6B" stroke-width="1.75" stroke-linejoin="round"/><polygon points="1655.40,118.97 1665.60,101.30 1645.20,101.30" fill="#37AD6B"/><polygon points="1683.80,205.35 1694.00,187.68 1673.60,187.68" fill="#37AD6B"/><polygon points="1575.50,291.73 1585.70,274.06 1565.30,274.06" fill="#37AD6B"/><polygon points="1572.10,378.11 1582.30,360.44 1561.90,360.44" fill="#37AD6B"/><polygon points="1675.60,464.49 1685.80,446.82 1665.40,446.82" fill="#37AD6B"/><polyline points="1718.60,107.19 1612.40,193.57 1540.70,279.95 1658.50,366.33 1709.90,452.71" fill="none" stroke="#B177DE" stroke-width="1.75" stroke-linejoin="round"/><polygon points="1718.60,96.19 1729.60,107.19 1718.60,118.19 1707.60,107.19" fill="#B177DE"/><polygon points="1612.40,182.57 1623.40,193.57 1612.40,204.57 1601.40,193.57" fill="#B177DE"/><polygon points="1540.70,268.95 1551.70,279.95 1540.70,290.95 1529.70,279.95" fill="#B177DE"/><polygon points="1658.50,355.33 1669.50,366.33 1658.50,377.33 1647.50,366.33" fill="#B177DE"/><polygon points="1709.90,441.71 1720.90,452.71 1709.90,463.71 1698.90,452.71" fill="#B177DE"/></g>
<g clip-path="url(#c4)"><polyline points="275.00,609.00 251.30,695.40 214.70,781.80 268.90,868.20 191.50,954.60" fill="none" stroke="#515151" stroke-width="1.75" stroke-linejoin="round"/><rect x="267.50" y="601.50" width="15.0" height="15.0" fill="#515151"/><rect x="243.80" y="687.90" width="15.0" height="15.0" fill="#515151"/><rect x="207.20" y="774.30" width="15.0" height="15.0" fill="#515151"/><rect x="261.40" y="860.70" width="15.0" height="15.0" fill="#515151"/><rect x="184.00" y="947.10" width="15.0" height="15.0" fill="#515151"/><polyline points="197.90,609.00 199.30,695.40 208.00,781.80 463.60,868.20 182.20,954.60" fill="none" stroke="#F14040" stroke-width="1.75" stroke-linejoin="round"/><circle cx="197.90" cy="609.00" r="8.75" fill="#F14040"/><circle cx="199.30" cy="695.40" r="8.75" fill="#F14040"/><circle cx="208.00" cy="781.80" r="8.75" fill="#F14040"/><circle cx="463.60" cy="868.20" r="8.75" fill="#F14040"/><circle cx="182.20" cy="954.60" r="8.75" fill="#F14040"/><polyline points="335.10,609.00 214.40,695.40 204.50,781.80 197.40,868.20 199.30,954.60" fill="none" stroke="#1A6FDF" stroke-width="1.75" stroke-linejoin="round"/><polygon points="335.10,597.22 345.30,614.89 324.90,614.89" fill="#1A6FDF"/><polygon points="214.40,683.62 224.60,701.29 204.20,701.29" fill="#1A6FDF"/><polygon points="204.50,770.02 214.70,787.69 194.30,787.69" fill="#1A6FDF"/><polygon points="197.40,856.42 207.60,874.09 187.20,874.09" fill="#1A6FDF"/><polygon points="199.30,942.82 209.50,960.49 189.10,960.49" fill="#1A6FDF"/><polyline points="506.90,609.00 451.10,695.40 240.00,781.80 218.70,868.20 201.70,954.60" fill="none" stroke="#37AD6B" stroke-width="1.75" stroke-linejoin="round"/><polygon points="506.90,620.78 517.10,603.11 496.70,603.11" fill="#37AD6B"/><polygon points="451.10,707.18 461.30,689.51 440.90,689.51" fill="#37AD6B"/><polygon points="240.00,793.58 250.20,775.91 229.80,775.91" fill="#37AD6B"/><polygon points="218.70,879.98 228.90,862.31 208.50,862.31" fill="#37AD6B"/><polygon points="201.70,966.38 211.90,948.71 191.50,948.71" fill="#37AD6B"/><polyline points="204.00,609.00 128.80,695.40 113.90,781.80 126.40,868.20 107.50,954.60" fill="none" stroke="#B177DE" stroke-width="1.75" stroke-linejoin="round"/><polygon points="204.00,598.00 215.00,609.00 204.00,620.00 193.00,609.00" fill="#B177DE"/><polygon points="128.80,684.40 139.80,695.40 128.80,706.40 117.80,695.40" fill="#B177DE"/><polygon points="113.90,770.80 124.90,781.80 113.90,792.80 102.90,781.80" fill="#B177DE"/><polygon points="126.40,857.20 137.40,868.20 126.40,879.20 115.40,868.20" fill="#B177DE"/><polygon points="107.50,943.60 118.50,954.60 107.50,965.60 96.50,954.60" fill="#B177DE"/></g>
<g clip-path="url(#c5)"><polyline points="927.90,609.00 988.70,695.40 1002.90,781.80 953.70,868.20 1008.30,954.60" fill="none" stroke="#515151" stroke-width="1.75" stroke-linejoin="round"/><rect x="920.40" y="601.50" width="15.0" height="15.0" fill="#515151"/><rect x="981.20" y="687.90" width="15.0" height="15.0" fill="#515151"/><rect x="995.40" y="774.30" width="15.0" height="15.0" fill="#515151"/><rect x="946.20" y="860.70" width="15.0" height="15.0" fill="#515151"/><rect x="1000.80" y="947.10" width="15.0" height="15.0" fill="#515151"/><polyline points="917.00,609.00 915.30,695.40 949.60,781.80 920.50,868.20 933.10,954.60" fill="none" stroke="#F14040" stroke-width="1.75" stroke-linejoin="round"/><circle cx="917.00" cy="609.00" r="8.75" fill="#F14040"/><circle cx="915.30" cy="695.40" r="8.75" fill="#F14040"/><circle cx="949.60" cy="781.80" r="8.75" fill="#F14040"/><circle cx="920.50" cy="868.20" r="8.75" fill="#F14040"/><circle cx="933.10" cy="954.60" r="8.75" fill="#F14040"/><polyline points="704.20,609.00 604.10,695.40 598.70,781.80 634.90,868.20 669.70,954.60" fill="none" stroke="#1A6FDF" stroke-width="1.75" stroke-linejoin="round"/><polygon points="704.20,597.22 714.40,614.89 694.00,614.89" fill="#1A6FDF"/><polygon points="604.10,683.62 614.30,701.29 593.90,701.29" fill="#1A6FDF"/><polygon points="598.70,770.02 608.90,787.69 588.50,787.69" fill="#1A6FDF"/><polygon points="634.90,856.42 645.10,874.09 624.70,874.09" fill="#1A6FDF"/><polygon points="669.70,942.82 679.90,960.49 659.50,960.49" fill="#1A6FDF"/><polyline points="666.10,609.00 700.70,695.40 680.60,781.80 651.50,868.20 709.70,954.60" fill="none" stroke="#37AD6B" stroke-width="1.75" stroke-linejoin="round"/><polygon points="666.10,620.78 676.30,603.11 655.90,603.11" fill="#37AD6B"/><polygon points="700.70,707.18 710.90,689.51 690.50,689.51" fill="#37AD6B"/><polygon points="680.60,793.58 690.80,775.91 670.40,775.91" fill="#37AD6B"/><polygon points="651.50,879.98 661.70,862.31 641.30,862.31" fill="#37AD6B"/><polygon points="709.70,966.38 719.90,948.71 699.50,948.71" fill="#37AD6B"/><polyline points="788.00,609.00 702.80,695.40 658.60,781.80 705.90,868.20 815.20,954.60" fill="none" stroke="#B177DE" stroke-width="1.75" stroke-linejoin="round"/><polygon points="788.00,598.00 799.00,609.00 788.00,620.00 777.00,609.00" fill="#B177DE"/><polygon points="702.80,684.40 713.80,695.40 702.80,706.40 691.80,695.40" fill="#B177DE"/><polygon points="658.60,770.80 669.60,781.80 658.60,792.80 647.60,781.80" fill="#B177DE"/><polygon points="705.90,857.20 716.90,868.20 705.90,879.20 694.90,868.20" fill="#B177DE"/><polygon points="815.20,943.60 826.20,954.60 815.20,965.60 804.20,954.60" fill="#B177DE"/></g>
<g clip-path="url(#c6)"><polyline points="1309.00,609.00 1319.00,695.40 1364.40,781.80 1299.10,868.20 1302.40,954.60" fill="none" stroke="#515151" stroke-width="1.75" stroke-linejoin="round"/><rect x="1301.50" y="601.50" width="15.0" height="15.0" fill="#515151"/><rect x="1311.50" y="687.90" width="15.0" height="15.0" fill="#515151"/><rect x="1356.90" y="774.30" width="15.0" height="15.0" fill="#515151"/><rect x="1291.60" y="860.70" width="15.0" height="15.0" fill="#515151"/><rect x="1294.90" y="947.10" width="15.0" height="15.0" fill="#515151"/><polyline points="1475.20,609.00 1468.80,695.40 1416.20,781.80 1462.20,868.20 1494.80,954.60" fill="none" stroke="#F14040" stroke-width="1.75" stroke-linejoin="round"/><circle cx="1475.20" cy="609.00" r="8.75" fill="#F14040"/><circle cx="1468.80" cy="695.40" r="8.75" fill="#F14040"/><circle cx="1416.20" cy="781.80" r="8.75" fill="#F14040"/><circle cx="1462.20" cy="868.20" r="8.75" fill="#F14040"/><circle cx="1494.80" cy="954.60" r="8.75" fill="#F14040"/><polyline points="1445.80,609.00 1194.70,695.40 1096.50,781.80 1148.80,868.20 1220.80,954.60" fill="none" stroke="#1A6FDF" stroke-width="1.75" stroke-linejoin="round"/><polygon points="1445.80,597.22 1456.00,614.89 1435.60,614.89" fill="#1A6FDF"/><polygon points="1194.70,683.62 1204.90,701.29 1184.50,701.29" fill="#1A6FDF"/><polygon points="1096.50,770.02 1106.70,787.69 1086.30,787.69" fill="#1A6FDF"/><polygon points="1148.80,856.42 1159.00,874.09 1138.60,874.09" fill="#1A6FDF"/><polygon points="1220.80,942.82 1231.00,960.49 1210.60,960.49" fill="#1A6FDF"/><polyline points="1344.80,609.00 1383.80,695.40 1285.40,781.80 1266.40,868.20 1272.80,954.60" fill="none" stroke="#37AD6B" stroke-width="1.75" stroke-linejoin="round"/><polygon points="1344.80,620.78 1355.00,603.11 1334.60,603.11" fill="#37AD6B"/><polygon points="1383.80,707.18 1394.00,689.51 1373.60,689.51" fill="#37AD6B"/><polygon points="1285.40,793.58 1295.60,775.91 1275.20,775.91" fill="#37AD6B"/><polygon points="1266.40,879.98 1276.60,862.31 1256.20,862.31" fill="#37AD6B"/><polygon points="1272.80,966.38 1283.00,948.71 1262.60,948.71" fill="#37AD6B"/><polyline points="1298.90,609.00 1195.00,695.40 1168.70,781.80 1217.50,868.20 1217.50,954.60" fill="none" stroke="#B177DE" stroke-width="1.75" stroke-linejoin="round"/><polygon points="1298.90,598.00 1309.90,609.00 1298.90,620.00 1287.90,609.00" fill="#B177DE"/><polygon points="1195.00,684.40 1206.00,695.40 1195.00,706.40 1184.00,695.40" fill="#B177DE"/><polygon points="1168.70,770.80 1179.70,781.80 1168.70,792.80 1157.70,781.80" fill="#B177DE"/><polygon points="1217.50,857.20 1228.50,868.20 1217.50,879.20 1206.50,868.20" fill="#B177DE"/><polygon points="1217.50,943.60 1228.50,954.60 1217.50,965.60 1206.50,954.60" fill="#B177DE"/></g>
<g clip-path="url(#c7)"><polyline points="1902.70,609.00 1936.80,695.40 1931.60,781.80 1911.70,868.20 1940.10,954.60" fill="none" stroke="#515151" stroke-width="1.75" stroke-linejoin="round"/><rect x="1895.20" y="601.50" width="15.0" height="15.0" fill="#515151"/><rect x="1929.30" y="687.90" width="15.0" height="15.0" fill="#515151"/><rect x="1924.10" y="774.30" width="15.0" height="15.0" fill="#515151"/><rect x="1904.20" y="860.70" width="15.0" height="15.0" fill="#515151"/><rect x="1932.60" y="947.10" width="15.0" height="15.0" fill="#515151"/><polyline points="1944.90,609.00 1938.70,695.40 1912.20,781.80 1872.00,868.20 1872.70,954.60" fill="none" stroke="#F14040" stroke-width="1.75" stroke-linejoin="round"/><circle cx="1944.90" cy="609.00" r="8.75" fill="#F14040"/><circle cx="1938.70" cy="695.40" r="8.75" fill="#F14040"/><circle cx="1912.20" cy="781.80" r="8.75" fill="#F14040"/><circle cx="1872.00" cy="868.20" r="8.75" fill="#F14040"/><circle cx="1872.70" cy="954.60" r="8.75" fill="#F14040"/><polyline points="1740.40,609.00 1557.20,695.40 1545.40,781.80 1566.00,868.20 1585.60,954.60" fill="none" stroke="#1A6FDF" stroke-width="1.75" stroke-linejoin="round"/><polygon points="1740.40,597.22 1750.60,614.89 1730.20,614.89" fill="#1A6FDF"/><polygon points="1557.20,683.62 1567.40,701.29 1547.00,701.29" fill="#1A6FDF"/><polygon points="1545.40,770.02 1555.60,787.69 1535.20,787.69" fill="#1A6FDF"/><polygon points="1566.00,856.42 1576.20,874.09 1555.80,874.09" fill="#1A6FDF"/><polygon points="1585.60,942.82 1595.80,960.49 1575.40,960.49" fill="#1A6FDF"/><polyline points="1744.70,609.00 1711.50,695.40 1641.70,781.80 1663.20,868.20 1659.00,954.60" fill="none" stroke="#37AD6B" stroke-width="1.75" stroke-linejoin="round"/><polygon points="1744.70,620.78 1754.90,603.11 1734.50,603.11" fill="#37AD6B"/><polygon points="1711.50,707.18 1721.70,689.51 1701.30,689.51" fill="#37AD6B"/><polygon points="1641.70,793.58 1651.90,775.91 1631.50,775.91" fill="#37AD6B"/><polygon points="1663.20,879.98 1673.40,862.31 1653.00,862.31" fill="#37AD6B"/><polygon points="1659.00,966.38 1669.20,948.71 1648.80,948.71" fill="#37AD6B"/><polyline points="1805.20,609.00 1740.90,695.40 1728.80,781.80 1728.80,868.20 1845.90,954.60" fill="none" stroke="#B177DE" stroke-width="1.75" stroke-linejoin="round"/><polygon points="1805.20,598.00 1816.20,609.00 1805.20,620.00 1794.20,609.00" fill="#B177DE"/><polygon points="1740.90,684.40 1751.90,695.40 1740.90,706.40 1729.90,695.40" fill="#B177DE"/><polygon points="1728.80,770.80 1739.80,781.80 1728.80,792.80 1717.80,781.80" fill="#B177DE"/><polygon points="1728.80,857.20 1739.80,868.20 1728.80,879.20 1717.80,868.20" fill="#B177DE"/><polygon points="1845.90,943.60 1856.90,954.60 1845.90,965.60 1834.90,954.60" fill="#B177DE"/></g>
<rect x="674.2" y="1003.5" width="732.4" height="38" fill="#fff" stroke="#000" stroke-width="1.4"/>
<line x1="678.00" y1="1022.5" x2="740.00" y2="1022.5" stroke="#515151" stroke-width="1.75"/>
<rect x="701.50" y="1015.00" width="15.0" height="15.0" fill="#515151"/>
<text x="747.50" y="1031.4" font-size="27.5" fill="#000">PMA</text>
<line x1="828.50" y1="1022.5" x2="890.50" y2="1022.5" stroke="#F14040" stroke-width="1.75"/>
<circle cx="859.50" cy="1022.50" r="8.75" fill="#F14040"/>
<text x="898.00" y="1031.4" font-size="27.5" fill="#000">PMB</text>
<line x1="978.30" y1="1022.5" x2="1040.30" y2="1022.5" stroke="#1A6FDF" stroke-width="1.75"/>
<polygon points="1009.30,1010.72 1019.50,1028.39 999.10,1028.39" fill="#1A6FDF"/>
<text x="1047.80" y="1031.4" font-size="27.5" fill="#000">PMC</text>
<line x1="1127.10" y1="1022.5" x2="1189.10" y2="1022.5" stroke="#37AD6B" stroke-width="1.75"/>
<polygon points="1158.10,1034.28 1168.30,1016.61 1147.90,1016.61" fill="#37AD6B"/>
<text x="1196.60" y="1031.4" font-size="27.5" fill="#000">PMD</text>
<line x1="1278.00" y1="1022.5" x2="1340.00" y2="1022.5" stroke="#B177DE" stroke-width="1.75"/>
<polygon points="1309.00,1011.50 1320.00,1022.50 1309.00,1033.50 1298.00,1022.50" fill="#B177DE"/>
<text x="1347.50" y="1031.4" font-size="27.5" fill="#000">PME</text>
</svg></body></html>
